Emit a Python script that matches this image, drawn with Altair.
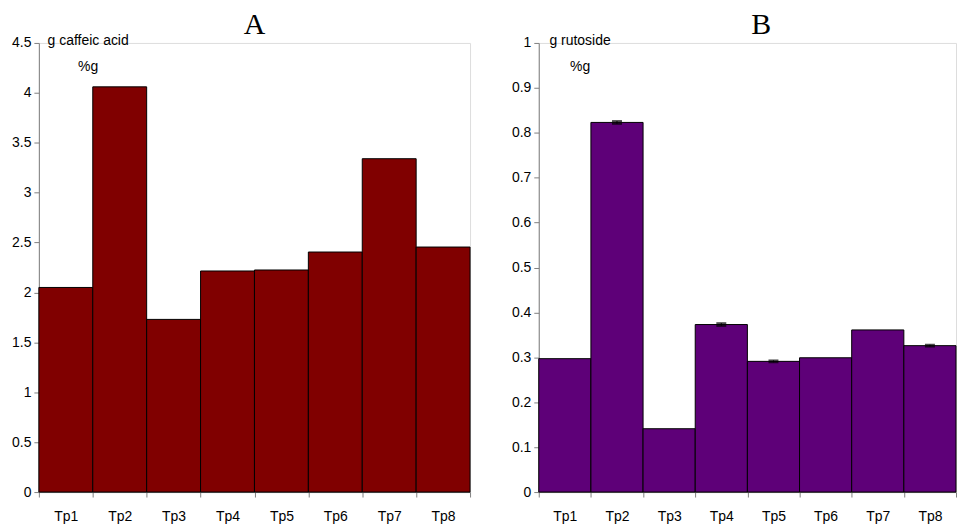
import altair as alt
import pandas as pd

categories = ["Tp1", "Tp2", "Tp3", "Tp4", "Tp5", "Tp6", "Tp7", "Tp8"]
caffeic = [2.05, 4.06, 1.73, 2.215, 2.225, 2.405, 3.34, 2.455]
rutoside = [0.297, 0.823, 0.141, 0.373, 0.291, 0.299, 0.361, 0.326]
rutoside_err = [0.0, 0.003, 0.0, 0.003, 0.002, 0.0, 0.0, 0.002]

ticks_a = [0, 0.5, 1, 1.5, 2, 2.5, 3, 3.5, 4, 4.5]
ticks_b = [0, 0.1, 0.2, 0.3, 0.4, 0.5, 0.6, 0.7, 0.8, 0.9, 1]

df_a = pd.DataFrame({"cat": categories, "v": caffeic})
df_b = pd.DataFrame({"cat": categories, "v": rutoside, "e": rutoside_err})
df_b["lo"] = df_b["v"] - df_b["e"]
df_b["hi"] = df_b["v"] + df_b["e"]
df_be = df_b[df_b["e"] > 0]

FONT = "Liberation Sans"

def xenc():
    return alt.X(
        "cat:N", sort=categories, title=None,
        scale=alt.Scale(paddingInner=0, paddingOuter=0),
        axis=alt.Axis(labelAngle=0, tickBand="extent", labelPadding=13,
                      domainColor="#808080", tickColor="#808080", tickSize=5,
                      labelFont=FONT, labelFontSize=14, labelColor="black"),
    )

def yaxis(ticks, title, tx):
    return alt.Axis(values=ticks, labelExpr="datum.value", grid=False,
                    domainColor="#808080", tickColor="#808080", tickSize=5,
                    labelPadding=3, labelFont=FONT, labelFontSize=14, labelColor="black",
                    title=title, titleAngle=0, titleAlign="center", titleBaseline="top",
                    titleX=tx, titleY=-9, titleFont=FONT, titleFontSize=14,
                    titleFontWeight="normal", titleLineHeight=26, titleColor="black")

def ptitle(t, dx):
    return alt.TitleParams(t, font="Liberation Serif", fontSize=30, fontWeight="normal",
                           anchor="middle", color="black", offset=-6, dx=dx)

bars_a = alt.Chart(df_a).mark_bar(color="#800000", stroke="black", strokeWidth=1).encode(
    x=xenc(),
    y=alt.Y("v:Q", scale=alt.Scale(domain=[0, 4.5], nice=False),
            axis=yaxis(ticks_a, ["g caffeic acid", "%g"], 49)),
)
chart_a = bars_a.properties(width=433, height=451, title=ptitle("A", 0))

bars_b = alt.Chart(df_b).mark_bar(color="#5E0078", stroke="black", strokeWidth=1).encode(
    x=xenc(),
    y=alt.Y("v:Q", scale=alt.Scale(domain=[0, 1], nice=False),
            axis=yaxis(ticks_b, ["g rutoside", "%g"], 41)),
)
err_rule = alt.Chart(df_be).mark_rule(color="black", strokeWidth=1).encode(
    x=alt.X("cat:N", sort=categories), y="lo:Q", y2="hi:Q")
err_cap = alt.Chart(df_be).mark_tick(color="black", thickness=2, size=10).encode(
    x=alt.X("cat:N", sort=categories), y="hi:Q")
err_cap2 = alt.Chart(df_be).mark_tick(color="black", thickness=2, size=10).encode(
    x=alt.X("cat:N", sort=categories), y="lo:Q")

chart_b = alt.layer(bars_b, err_rule, err_cap, err_cap2).properties(
    width=419, height=451, title=ptitle("B", 14))

chart = alt.hconcat(chart_a, chart_b, spacing=40).configure_view(stroke=None).configure(
    padding={"left": 3, "top": 0, "right": 0, "bottom": 0}
)

chart.save("out.html", embed_options={"renderer": "svg", "actions": False})
